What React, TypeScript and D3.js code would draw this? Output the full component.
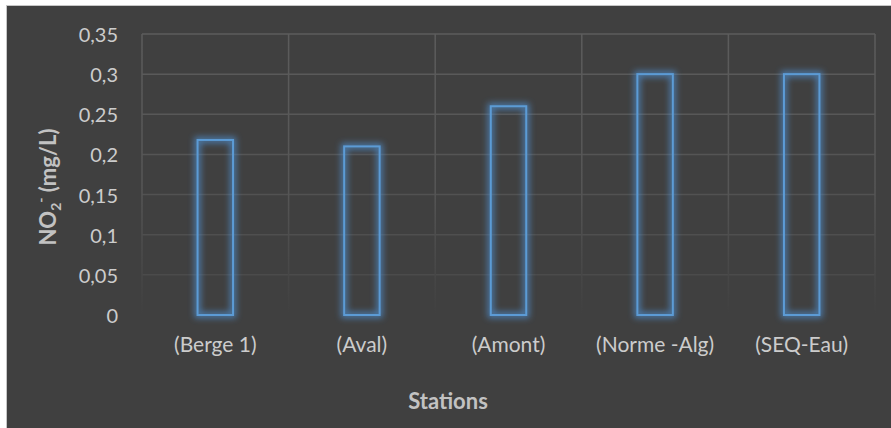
import React from "react";
import * as d3 from "d3";

// NO2- concentration per sampling station
const stations = ["(Berge 1)", "(Aval)", "(Amont)", "(Norme -Alg)", "(SEQ-Eau)"];
const no2Values = [0.218, 0.21, 0.26, 0.3, 0.3];
const yTicks = [0, 0.05, 0.1, 0.15, 0.2, 0.25, 0.3, 0.35];

const W = 891;
const H = 428;
const plot = { left: 142, right: 875, top: 34, bottom: 315 };
const FONT = "Lato, 'Open Sans', sans-serif";

const frLocale = d3.formatLocale({
  decimal: ",",
  thousands: " ",
  grouping: [3],
  currency: ["", " €"],
});
const fmt = frLocale.format("~g");

export default function App() {
  const x = d3
    .scaleBand<string>()
    .domain(stations)
    .range([plot.left, plot.right])
    .padding(0);
  const y = d3.scaleLinear().domain([0, 0.35]).range([plot.bottom, plot.top]);
  const barW = x.bandwidth() * 0.242;
  const boundaries = [...stations.map((s) => x(s) as number), plot.right];
  // gridlines fade out towards the baseline
  const gridColour = (v: number) => {
    const k = (plot.bottom - y(v)) / (plot.bottom - plot.top);
    return d3.interpolateRgb("#444444", "#5c5c5c")(Math.min(1, Math.pow(k, 0.6)));
  };

  return (
    <svg
      width={W}
      height={H}
      style={{ position: "absolute", left: 0, top: 0 }}
      xmlns="http://www.w3.org/2000/svg"
    >
      <defs>
        <linearGradient
          id="gridFade"
          gradientUnits="userSpaceOnUse"
          x1={0}
          y1={plot.top}
          x2={0}
          y2={plot.bottom}
        >
          <stop offset="0" stopColor="#5c5c5c" />
          <stop offset="0.55" stopColor="#565656" />
          <stop offset="1" stopColor="#404040" />
        </linearGradient>
        <filter id="glow" x="-60%" y="-20%" width="220%" height="140%">
          <feMorphology in="SourceAlpha" operator="dilate" radius="1.5" result="thick" />
          <feGaussianBlur in="thick" stdDeviation="3" result="blur" />
          <feFlood floodColor="#4f8fd0" floodOpacity="0.75" result="tint" />
          <feComposite in="tint" in2="blur" operator="in" result="halo" />
          <feMerge>
            <feMergeNode in="halo" />
            <feMergeNode in="SourceGraphic" />
          </feMerge>
        </filter>
      </defs>

      <rect x={0} y={0} width={W} height={H} fill="#ffffff" />
      <rect
        x={6.5}
        y={5.5}
        width={W - 6}
        height={H - 5}
        fill="#404040"
        stroke="#c6c6c6"
        strokeWidth={1}
      />

      {/* horizontal gridlines */}
      {yTicks
        .filter((t) => t > 0)
        .map((t) => (
          <line
            key={"h" + t}
            x1={plot.left}
            x2={plot.right}
            y1={y(t)}
            y2={y(t)}
            stroke={gridColour(t)}
            strokeWidth={1.5}
          />
        ))}

      {/* vertical category separators */}
      {boundaries.map((bx, i) => (
        <rect
          key={"v" + i}
          x={bx - 0.75}
          y={plot.top}
          width={1.5}
          height={plot.bottom - plot.top}
          fill="url(#gridFade)"
        />
      ))}

      {/* bars */}
      {stations.map((s, i) => {
        const cx = (x(s) as number) + x.bandwidth() / 2;
        return (
          <rect
            key={s}
            x={cx - barW / 2}
            y={y(no2Values[i])}
            width={barW}
            height={y(0) - y(no2Values[i])}
            fill="none"
            stroke="#5b9bd5"
            strokeWidth={2}
            filter="url(#glow)"
          />
        );
      })}

      {/* y tick labels */}
      {yTicks.map((t) => (
        <text
          key={"yt" + t}
          x={118}
          y={y(t)}
          textAnchor="end"
          dominantBaseline="central"
          fontFamily={FONT}
          fontSize={20}
          fill="#cccccc"
        >
          {fmt(t)}
        </text>
      ))}

      {/* category labels */}
      {stations.map((s) => (
        <text
          key={"xl" + s}
          x={(x(s) as number) + x.bandwidth() / 2}
          y={352}
          textAnchor="middle"
          fontFamily={FONT}
          fontSize={21}
          fill="#cccccc"
        >
          {s}
        </text>
      ))}

      {/* axis titles */}
      <text
        x={448}
        y={409}
        textAnchor="middle"
        fontFamily={FONT}
        fontSize={22}
        fontWeight="bold"
        fill="#c2c2c2"
      >
        Stations
      </text>
      <text
        transform="translate(56,187) rotate(-90)"
        textAnchor="middle"
        fontFamily={FONT}
        fontSize={22}
        fontWeight="bold"
        fill="#c2c2c2"
      >
        NO
        <tspan fontSize={14} dy={5}>
          2
        </tspan>
        <tspan fontSize={14} dy={-15}>
          -
        </tspan>
        <tspan dy={10}> (mg/L)</tspan>
      </text>
    </svg>
  );
}
